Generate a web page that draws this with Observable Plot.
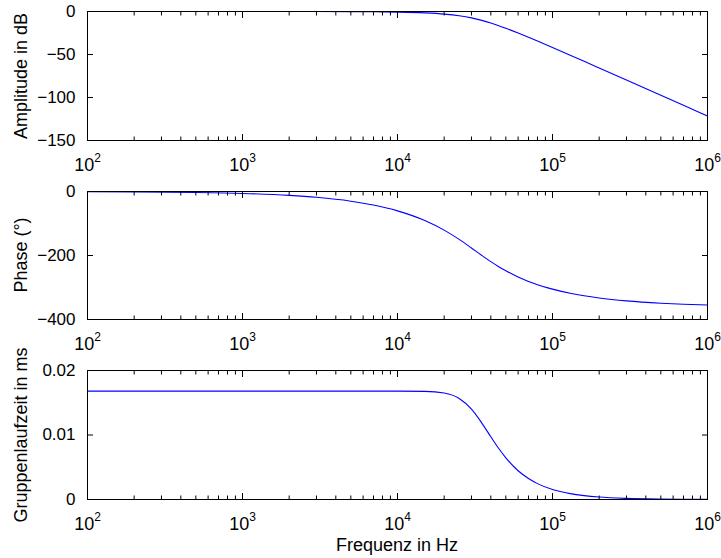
<!DOCTYPE html>
<html>
<head>
<meta charset="utf-8">
<script src="https://cdn.jsdelivr.net/npm/d3@7"></script>
<script src="https://cdn.jsdelivr.net/npm/@observablehq/plot@0.6"></script>
<style>
  body { margin: 0; background: #fff; }
  #chart { position: relative; width: 721px; height: 558px; font-family: "Liberation Sans", Arial, Helvetica, sans-serif; background: #fff; overflow: hidden; }
  #chart svg { position: absolute; left: 0; }
  .lab { position: absolute; white-space: nowrap; font-size: 18px; line-height: 1; color: #000; }
</style>
</head>
<body>
<div id="chart"></div>
<script>
// Frequency samples (Hz)
const freq = [100, 200, 500, 1000, 2000, 3000, 5000, 7000, 10000, 15000, 20000, 25000, 30000, 35000, 40000, 45000, 50000, 60000, 70000, 80000, 100000, 130000, 160000, 200000, 300000, 500000, 700000, 1000000];
// Amplitude in dB
const amplitudeDb = [0, 0, -0.002, -0.007, -0.03, -0.06, -0.17, -0.34, -0.70, -1.62, -3.00, -4.93, -7.40, -10.29, -13.37, -16.47, -19.48, -25.05, -30.00, -34.39, -41.88, -50.81, -57.94, -65.64, -79.67, -97.39, -109.07, -121.46];
// Phase in degrees
const phaseDeg = [-0.60, -1.21, -3.02, -6.05, -12.10, -18.14, -30.24, -42.34, -60.48, -90.69, -120.68, -149.73, -176.52, -199.82, -219.20, -235.00, -247.87, -267.22, -280.93, -291.10, -305.17, -317.99, -325.94, -332.79, -341.89, -349.14, -352.24, -354.57];
// Group delay in ms
const groupDelayMs = [0.0168, 0.0168, 0.0168, 0.0168, 0.0168, 0.0168, 0.0168, 0.0168, 0.0168, 0.01676, 0.01650, 0.01565, 0.01400, 0.01185, 0.00972, 0.00790, 0.00646, 0.00446, 0.00325, 0.00246, 0.00155, 0.00091, 0.00060, 0.00038, 0.00017, 0.00006, 0.00003, 0.000015];

// Axis ticks and labels
const xMajorTicks = [100, 1000, 10000, 100000, 1000000];
const xTickExponents = ["2", "3", "4", "5", "6"];
const xMinorTicks = [200, 300, 400, 500, 600, 700, 800, 900,
  2000, 3000, 4000, 5000, 6000, 7000, 8000, 9000,
  20000, 30000, 40000, 50000, 60000, 70000, 80000, 90000,
  200000, 300000, 400000, 500000, 600000, 700000, 800000, 900000];
const ampTicks = [0, -50, -100, -150];
const ampTickLabels = ["0", "\u221250", "\u2212100", "\u2212150"];
const phaseTicks = [0, -200, -400];
const phaseTickLabels = ["0", "\u2212200", "\u2212400"];
const delayTicks = [0, 0.01, 0.02];
const delayTickLabels = ["0", "0.01", "0.02"];

const xLabel = "Frequenz in Hz";
const yLabels = ["Amplitude in dB", "Phase (\u00b0)", "Gruppenlaufzeit in ms"];

const chart = document.getElementById("chart");
const FONT = "'Liberation Sans', Arial, Helvetica, sans-serif";

function panel({values, domain, ticks, tickLabels, top, height, mt, mb}) {
  const data = freq.map((f, i) => ({f, v: values[i]}));
  const empty = () => "";
  const svg = Plot.plot({
    width: 721, height,
    marginLeft: 87, marginRight: 14, marginTop: mt, marginBottom: mb,
    style: {fontFamily: FONT, fontSize: "17px", background: "transparent", color: "black", overflow: "visible"},
    x: {type: "log", domain: [100, 1000000]},
    y: {domain},
    marks: [
      Plot.line(data, {x: "f", y: "v", stroke: "#0000ff", strokeWidth: 1.1, curve: "monotone-x"}),
      Plot.axisX(xMinorTicks, {anchor: "bottom", tickSize: -3.5, tickFormat: empty, label: null}),
      Plot.axisX(xMinorTicks, {anchor: "top", tickSize: -3.5, tickFormat: empty, label: null}),
      Plot.axisX(xMajorTicks, {anchor: "top", tickSize: -6, tickFormat: empty, label: null}),
      Plot.axisX(xMajorTicks, {anchor: "bottom", tickSize: -6, tickPadding: 24,
        tickFormat: (d) => "10^" + xTickExponents[xMajorTicks.indexOf(d)], label: null}),
      Plot.axisY(ticks, {anchor: "right", tickSize: -6, tickFormat: empty, label: null}),
      Plot.axisY(ticks, {anchor: "left", tickSize: -6, tickPadding: 18,
        tickFormat: (d) => tickLabels[ticks.indexOf(d)], label: null}),
      Plot.frame({stroke: "black", strokeWidth: 1})
    ]
  });
  // render exponents as superscripts
  svg.querySelectorAll("text").forEach((t) => {
    const s = t.textContent;
    if (s.startsWith("10^")) {
      const exp = s.slice(3);
      while (t.firstChild) t.removeChild(t.firstChild);
      const base = document.createElementNS("http://www.w3.org/2000/svg", "tspan");
      base.textContent = "10";
      base.setAttribute("font-size", "18");
      const sup = document.createElementNS("http://www.w3.org/2000/svg", "tspan");
      sup.textContent = exp;
      sup.setAttribute("dy", "-9");
      sup.setAttribute("font-size", "12");
      t.appendChild(base);
      t.appendChild(sup);
    }
  });
  svg.style.top = top + "px";
  chart.appendChild(svg);
}

panel({values: amplitudeDb, domain: [-150, 0], ticks: ampTicks, tickLabels: ampTickLabels, top: 0, height: 180, mt: 11, mb: 40});
panel({values: phaseDeg, domain: [-400, 0], ticks: phaseTicks, tickLabels: phaseTickLabels, top: 180, height: 170, mt: 11, mb: 31});
panel({values: groupDelayMs, domain: [0, 0.02], ticks: delayTicks, tickLabels: delayTickLabels, top: 350, height: 208, mt: 20, mb: 59});

// axis titles
const centers = [75.5, 255, 434.5];
yLabels.forEach((txt, i) => {
  const d = document.createElement("div");
  d.className = "lab";
  d.textContent = txt;
  d.style.left = "21px";
  d.style.top = centers[i] + "px";
  d.style.transform = "translate(-50%,-50%) rotate(-90deg)";
  chart.appendChild(d);
});
const xl = document.createElement("div");
xl.className = "lab";
xl.textContent = xLabel;
xl.style.left = "397px";
xl.style.top = "545px";
xl.style.transform = "translate(-50%,-50%)";
chart.appendChild(xl);
</script>
</body>
</html>
